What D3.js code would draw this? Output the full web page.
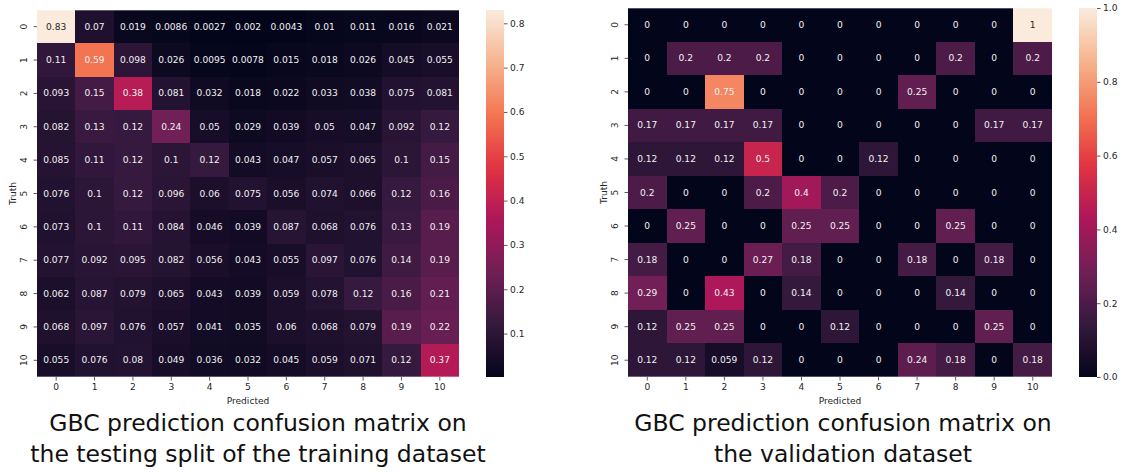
<!DOCTYPE html>
<html>
<head>
<meta charset="utf-8">
<script src="https://cdn.jsdelivr.net/npm/d3@7"></script>
<style>
  html, body { margin: 0; padding: 0; background: #fff; }
  svg { display: block; font-family: "DejaVu Sans", sans-serif; }
</style>
</head>
<body>
<svg id="chart" width="1121" height="473"></svg>
<script>
// Class labels shared by both matrices
const classLabels = ["0","1","2","3","4","5","6","7","8","9","10"];

// Row-normalised confusion matrix, testing split of the training dataset
const trainMatrix = [
  [0.83, 0.07, 0.019, 0.0086, 0.0027, 0.002, 0.0043, 0.01, 0.011, 0.016, 0.021],
  [0.11, 0.59, 0.098, 0.026, 0.0095, 0.0078, 0.015, 0.018, 0.026, 0.045, 0.055],
  [0.093, 0.15, 0.38, 0.081, 0.032, 0.018, 0.022, 0.033, 0.038, 0.075, 0.081],
  [0.082, 0.13, 0.12, 0.24, 0.05, 0.029, 0.039, 0.05, 0.047, 0.092, 0.12],
  [0.085, 0.11, 0.12, 0.1, 0.12, 0.043, 0.047, 0.057, 0.065, 0.1, 0.15],
  [0.076, 0.1, 0.12, 0.096, 0.06, 0.075, 0.056, 0.074, 0.066, 0.12, 0.16],
  [0.073, 0.1, 0.11, 0.084, 0.046, 0.039, 0.087, 0.068, 0.076, 0.13, 0.19],
  [0.077, 0.092, 0.095, 0.082, 0.056, 0.043, 0.055, 0.097, 0.076, 0.14, 0.19],
  [0.062, 0.087, 0.079, 0.065, 0.043, 0.039, 0.059, 0.078, 0.12, 0.16, 0.21],
  [0.068, 0.097, 0.076, 0.057, 0.041, 0.035, 0.06, 0.068, 0.079, 0.19, 0.22],
  [0.055, 0.076, 0.08, 0.049, 0.036, 0.032, 0.045, 0.059, 0.071, 0.12, 0.37]
];

// Row-normalised confusion matrix, validation dataset
const validMatrix = [
  [0, 0, 0, 0, 0, 0, 0, 0, 0, 0, 1],
  [0, 0.2, 0.2, 0.2, 0, 0, 0, 0, 0.2, 0, 0.2],
  [0, 0, 0.75, 0, 0, 0, 0, 0.25, 0, 0, 0],
  [0.17, 0.17, 0.17, 0.17, 0, 0, 0, 0, 0, 0.17, 0.17],
  [0.12, 0.12, 0.12, 0.5, 0, 0, 0.12, 0, 0, 0, 0],
  [0.2, 0, 0, 0.2, 0.4, 0.2, 0, 0, 0, 0, 0],
  [0, 0.25, 0, 0, 0.25, 0.25, 0, 0, 0.25, 0, 0],
  [0.18, 0, 0, 0.27, 0.18, 0, 0, 0.18, 0, 0.18, 0],
  [0.29, 0, 0.43, 0, 0.14, 0, 0, 0, 0.14, 0, 0],
  [0.12, 0.25, 0.25, 0, 0, 0.12, 0, 0, 0, 0.25, 0],
  [0.12, 0.12, 0.059, 0.12, 0, 0, 0, 0.24, 0.18, 0, 0.18]
];

// Colour-bar tick values
const trainBarTicks = [0.1, 0.2, 0.3, 0.4, 0.5, 0.6, 0.7, 0.8];
const validBarTicks = [0.0, 0.2, 0.4, 0.6, 0.8, 1.0];

// Captions
const trainTitle = ["GBC prediction confusion matrix on", "the testing split of the training dataset"];
const validTitle = ["GBC prediction confusion matrix on", "the validation dataset"];

// "rocket"-style sequential colormap
const rocketStops = ["#03051a", "#35193e", "#701f57", "#ad1759", "#e13342", "#f37651", "#f6b48f", "#faebdd"];
const rocketPos = [0, 1/7, 2/7, 3/7, 4/7, 5/7, 6/7, 1];
const rocketScale = d3.scaleLinear().domain(rocketPos).range(rocketStops)
  .interpolate(d3.interpolateRgb).clamp(true);

const svg = d3.select("#chart");
const defs = svg.append("defs");
const FS = 9.1;
const fmt = d3.format(".2~g");

function luminance(c) {
  const rgb = d3.rgb(c);
  const lin = v => { v /= 255; return v <= 0.03928 ? v / 12.92 : Math.pow((v + 0.055) / 1.055, 2.4); };
  return 0.2126 * lin(rgb.r) + 0.7152 * lin(rgb.g) + 0.0722 * lin(rgb.b);
}

function drawPanel(p) {
  const flat = p.matrix.flat();
  const vmin = p.vmin != null ? p.vmin : d3.min(flat);
  const vmax = p.vmax != null ? p.vmax : d3.max(flat);
  const norm = d3.scaleLinear().domain([vmin, vmax]).range([0, 1]);
  const color = v => rocketScale(norm(v));

  const x = d3.scaleBand().domain(classLabels).range([p.x0, p.x1]);
  const y = d3.scaleBand().domain(classLabels).range([p.y0, p.y1]);

  const g = svg.append("g");
  const cells = [];
  p.matrix.forEach((row, i) => row.forEach((v, j) => cells.push({ r: classLabels[i], c: classLabels[j], v })));

  // cells snapped to whole pixels so neighbouring cells meet without seams
  g.selectAll("rect.cell").data(cells).join("rect")
    .attr("class", "cell")
    .attr("shape-rendering", "crispEdges")
    .attr("x", d => Math.round(x(d.c)))
    .attr("y", d => Math.round(y(d.r)))
    .attr("width", d => Math.round(x(d.c) + x.bandwidth()) - Math.round(x(d.c)))
    .attr("height", d => Math.round(y(d.r) + y.bandwidth()) - Math.round(y(d.r)))
    .attr("fill", d => color(d.v));

  g.selectAll("text.annot").data(cells).join("text")
    .attr("class", "annot")
    .attr("x", d => x(d.c) + x.bandwidth() / 2)
    .attr("y", d => y(d.r) + y.bandwidth() / 2)
    .attr("text-anchor", "middle")
    .attr("dominant-baseline", "central")
    .attr("font-size", FS)
    .attr("fill", d => luminance(color(d.v)) > 0.408 ? "#262626" : "#f2f2f2")
    .text(d => fmt(d.v));

  // soft edge along top and bottom of the matrix
  [p.y0 + 0.5, p.y1 - 0.5].forEach(yy => {
    g.append("line").attr("x1", p.x0).attr("x2", p.x1).attr("y1", yy).attr("y2", yy)
      .attr("stroke", "#fff").attr("stroke-opacity", 0.3);
  });

  // y axis (Truth)
  const yAxis = g.append("g").attr("transform", `translate(${p.x0},0)`)
    .call(d3.axisLeft(y).tickSize(3.5).tickSizeOuter(0));
  yAxis.select(".domain").remove();
  yAxis.selectAll(".tick line").attr("stroke", "#333").attr("stroke-width", 0.8);
  yAxis.selectAll(".tick text")
    .attr("x", 0).attr("dy", null)
    .attr("text-anchor", "middle")
    .attr("dominant-baseline", "central")
    .attr("transform", "translate(-13,0) rotate(-90)")
    .attr("font-size", FS).attr("font-family", "DejaVu Sans").attr("fill", "#262626");

  // x axis (Predicted)
  const xAxis = g.append("g").attr("transform", `translate(0,${p.y1})`)
    .call(d3.axisBottom(x).tickSize(3.5).tickPadding(3.5).tickSizeOuter(0));
  xAxis.select(".domain").remove();
  xAxis.selectAll(".tick line").attr("stroke", "#333").attr("stroke-width", 0.8);
  xAxis.selectAll(".tick text").attr("font-size", FS).attr("font-family", "DejaVu Sans").attr("fill", "#262626");

  g.append("text")
    .attr("x", (p.x0 + p.x1) / 2).attr("y", p.y1 + 27)
    .attr("text-anchor", "middle").attr("font-size", FS).attr("fill", "#262626")
    .text("Predicted");
  g.append("text")
    .attr("transform", `translate(${p.x0 - 24},${(p.y0 + p.y1) / 2}) rotate(-90)`)
    .attr("text-anchor", "middle").attr("dominant-baseline", "central")
    .attr("font-size", FS).attr("fill", "#262626")
    .text("Truth");

  // colour bar
  const gradId = "grad-" + p.id;
  const grad = defs.append("linearGradient").attr("id", gradId)
    .attr("x1", 0).attr("y1", 1).attr("x2", 0).attr("y2", 0);
  d3.range(0, 1.0001, 0.02).forEach(t => {
    grad.append("stop").attr("offset", t).attr("stop-color", rocketScale(t));
  });
  g.append("rect")
    .attr("x", p.cbX).attr("y", p.y0)
    .attr("width", p.cbW).attr("height", p.y1 - p.y0)
    .attr("fill", `url(#${gradId})`);

  const cb = d3.scaleLinear().domain([vmin, vmax]).range([p.y1, p.y0]);
  const cbAxis = g.append("g").attr("transform", `translate(${p.cbX + p.cbW},0)`)
    .call(d3.axisRight(cb).tickValues(p.barTicks).tickFormat(d3.format(".1f"))
      .tickSize(3.5).tickPadding(2.5).tickSizeOuter(0));
  cbAxis.select(".domain").remove();
  cbAxis.selectAll(".tick line").attr("stroke", "#333").attr("stroke-width", 0.8);
  cbAxis.selectAll(".tick text").attr("font-size", FS).attr("font-family", "DejaVu Sans").attr("fill", "#262626");

  // caption
  p.title.forEach((line, k) => {
    svg.append("text")
      .attr("x", p.titleX).attr("y", 431 + k * 31)
      .attr("text-anchor", "middle")
      .attr("font-size", 23.5)
      .attr("fill", "#111")
      .text(line);
  });
}

drawPanel({
  id: "train", matrix: trainMatrix,
  x0: 37, x1: 459, y0: 10, y1: 377,
  cbX: 486, cbW: 18, barTicks: trainBarTicks,
  title: trainTitle, titleX: 258
});

drawPanel({
  id: "valid", matrix: validMatrix, vmin: 0, vmax: 1,
  x0: 628, x1: 1052, y0: 8, y1: 377,
  cbX: 1079, cbW: 18, barTicks: validBarTicks,
  title: validTitle, titleX: 843
});
</script>
</body>
</html>
